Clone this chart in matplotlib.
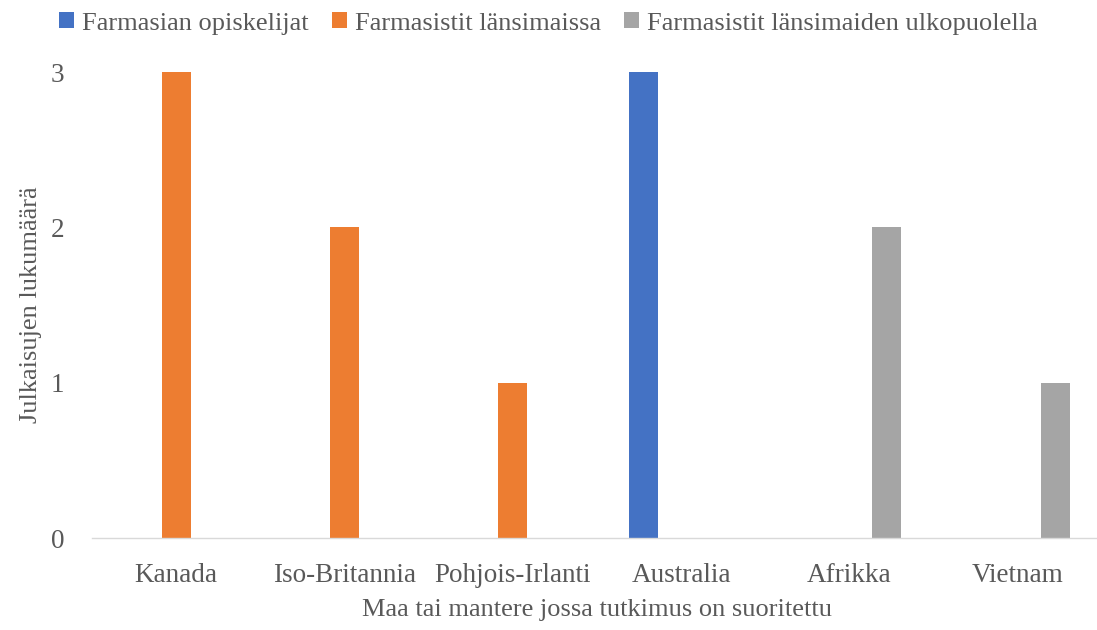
import numpy as np
import matplotlib.pyplot as plt

plt.rcParams['font.family'] = ['Liberation Serif', 'DejaVu Serif']

countries = ["Kanada", "Iso-Britannia", "Pohjois-Irlanti", "Australia", "Afrikka", "Vietnam"]
series = ["Farmasian opiskelijat", "Farmasistit länsimaissa", "Farmasistit länsimaiden ulkopuolella"]
opiskelijat = [0, 0, 0, 3, 0, 0]
lansimaissa = [3, 2, 1, 0, 0, 0]
ulkopuolella = [0, 0, 0, 0, 2, 1]
colors = ["#4472C4", "#ED7D31", "#A5A5A5"]

text_color = "#595959"

fig = plt.figure(figsize=(10.97, 6.3), dpi=100)
ax = fig.add_axes([92/1097, 1-538/630, (1102-92)/1097, (538-72)/630])

x = np.arange(len(countries))
w = 0.172
offset = 0.222
for i, (vals, name, c) in enumerate(zip([opiskelijat, lansimaissa, ulkopuolella], series, colors)):
    ax.bar(x + (i-1)*offset, vals, width=w, color=c, label=name)

ax.set_xlim(-0.5, len(countries)-0.5)
ax.set_ylim(0, 3)
ax.set_yticks([0, 1, 2, 3])
ax.set_xticks(x)
ax.set_xticklabels(countries)
ax.tick_params(axis='both', length=0, labelsize=19.5, colors=text_color)
ax.tick_params(axis='x', pad=18)
ax.tick_params(axis='y', pad=20)

for s in ["top", "right", "left"]:
    ax.spines[s].set_visible(False)
ax.spines["bottom"].set_color("#D9D9D9")
ax.spines["bottom"].set_linewidth(1)

ax.set_xlabel("Maa tai mantere jossa tutkimus on suoritettu", fontsize=19, color=text_color, labelpad=8)
ax.set_ylabel("Julkaisujen lukumäärä", fontsize=19, color=text_color, labelpad=6)

fig.legend(loc="upper center", bbox_to_anchor=(0.5, 1.018), ncol=3, frameon=False,
           fontsize=19, labelcolor=text_color, handlelength=0.55, handleheight=0.55,
           handletextpad=0.3, columnspacing=0.9)

fig.savefig("out.png", dpi=100)
